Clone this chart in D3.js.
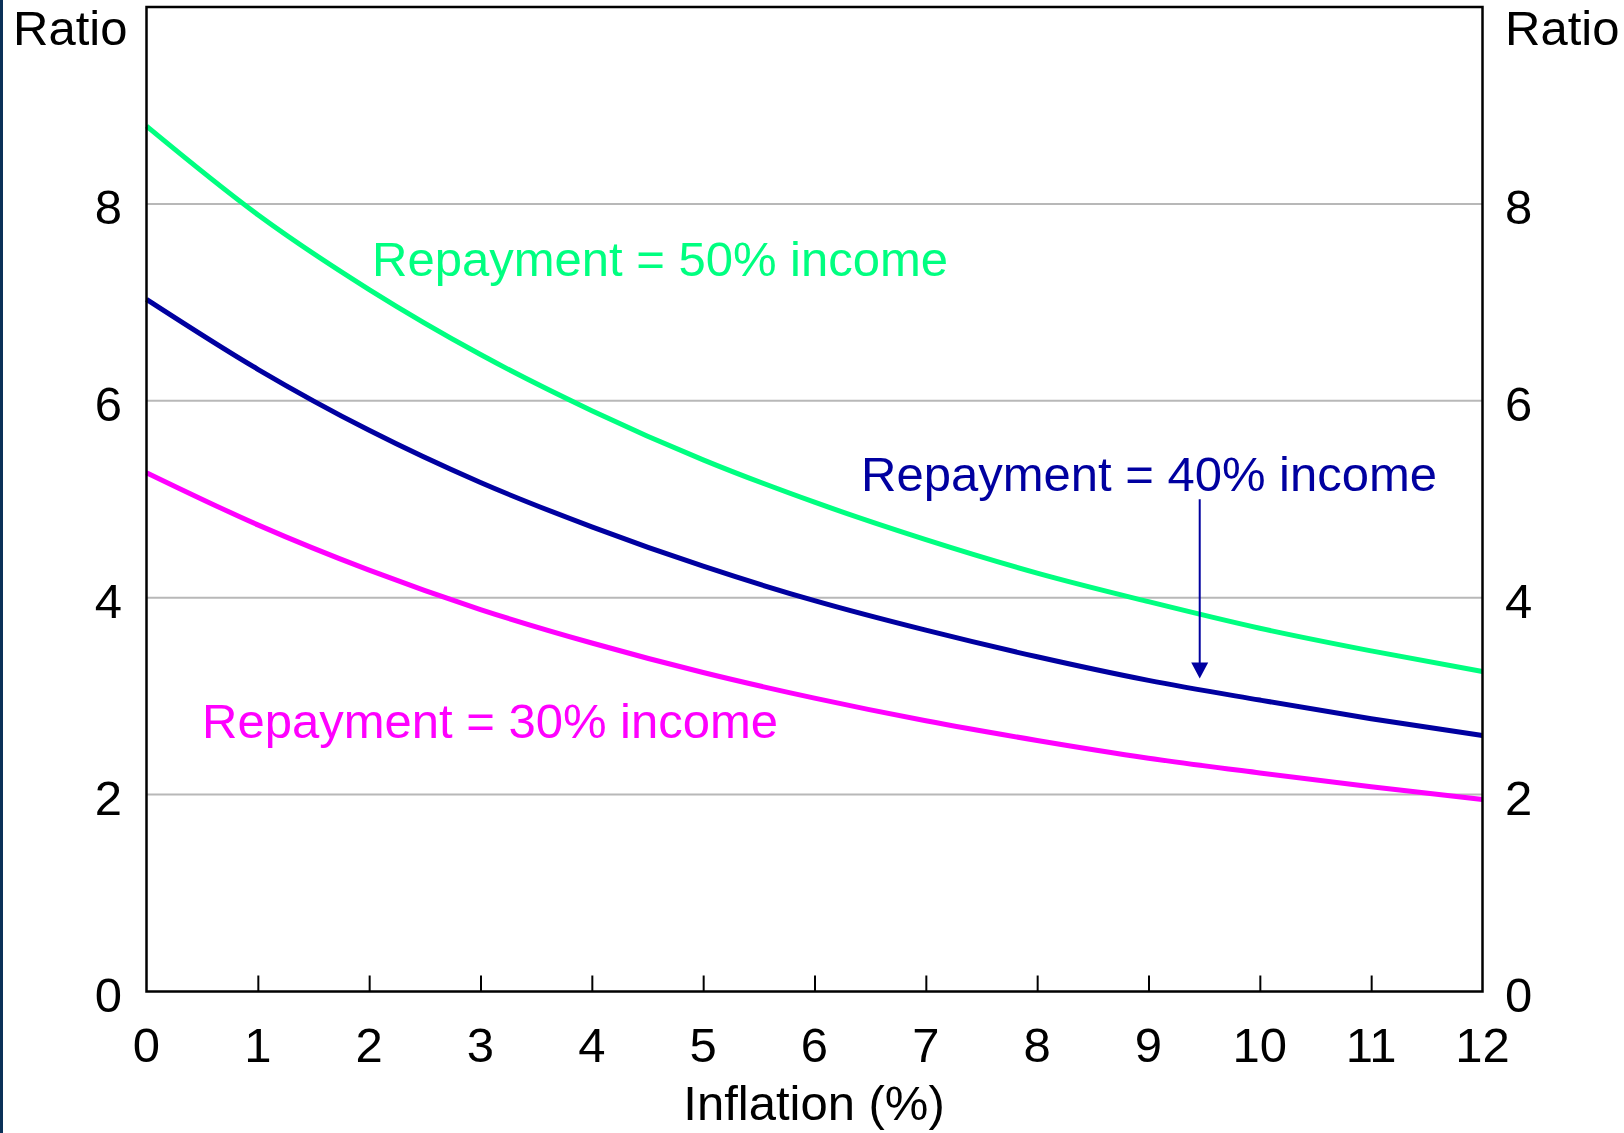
<!DOCTYPE html>
<html>
<head>
<meta charset="utf-8">
<script src="https://cdn.jsdelivr.net/npm/d3@7"></script>
<style>
  html, body { margin: 0; padding: 0; background: #fff; }
  svg { display: block; }
  text { font-family: "Liberation Sans", Arial, sans-serif; }
</style>
</head>
<body>
<svg id="chart" width="1624" height="1133"></svg>
<script>
// ---- Data ----
const inflation = [0, 1, 2, 3, 4, 5, 6, 7, 8, 9, 10, 11, 12];
const repay50 = [8.79, 7.89, 7.13, 6.47, 5.90, 5.40, 4.97, 4.59, 4.25, 3.96, 3.69, 3.46, 3.25];
const repay40 = [7.03, 6.32, 5.70, 5.17, 4.72, 4.32, 3.97, 3.67, 3.40, 3.16, 2.96, 2.77, 2.60];
const repay30 = [5.27, 4.74, 4.28, 3.88, 3.54, 3.24, 2.98, 2.75, 2.55, 2.37, 2.22, 2.08, 1.95];
const seriesNames = ["Repayment = 50% income", "Repayment = 40% income", "Repayment = 30% income"];
const xTicks = [0, 1, 2, 3, 4, 5, 6, 7, 8, 9, 10, 11, 12];
const yTicks = [0, 2, 4, 6, 8];
const gridValues = [2, 4, 6, 8];
const arrowAt = { x: 9.46, from: 5.0, to: 3.18 };

// ---- Layout ----
const svg = d3.select("#chart");
const pLeft = 146.5, pRight = 1482.5, pTop = 7, pBottom = 991.5;
const x = d3.scaleLinear().domain([0, 12]).range([pLeft, pRight]);
const y = d3.scaleLinear().domain([0, 10]).range([pBottom, pTop]);

const colors = ["#00FF80", "#0000A0", "#FF00FF"];
const fontSize = 49;

// left dark border strip
svg.append("rect").attr("x", 0).attr("y", 0).attr("width", 3).attr("height", 1133).attr("fill", "#0a3158");

// gridlines
svg.append("g").selectAll("line").data(gridValues).join("line")
  .attr("x1", pLeft).attr("x2", pRight)
  .attr("y1", d => y(d)).attr("y2", d => y(d))
  .attr("stroke", "#b8b8b8").attr("stroke-width", 2);

// lines
const lineGen = d3.line()
  .x((d, i) => x(inflation[i]))
  .y(d => y(d))
  .curve(d3.curveMonotoneX);

const series = [repay50, repay40, repay30];
svg.append("g").selectAll("path").data(series).join("path")
  .attr("d", d => lineGen(d))
  .attr("fill", "none")
  .attr("stroke", (d, i) => colors[i])
  .attr("stroke-width", 5);

// frame
svg.append("rect")
  .attr("x", pLeft).attr("y", pTop)
  .attr("width", pRight - pLeft).attr("height", pBottom - pTop)
  .attr("fill", "none").attr("stroke", "#000").attr("stroke-width", 2.5);

// bottom axis (ticks inward)
const xAxis = d3.axisBottom(x).tickValues(xTicks).tickSize(-16).tickFormat("");
const xg = svg.append("g").attr("transform", `translate(0,${pBottom})`).call(xAxis);
xg.select(".domain").remove();
xg.selectAll(".tick line").attr("stroke", "#000").attr("stroke-width", 2)
  .filter(d => d === 0 || d === 12).remove();

// x tick labels
svg.append("g").selectAll("text").data(xTicks).join("text")
  .attr("x", d => x(d)).attr("y", 1062)
  .attr("text-anchor", "middle")
  .attr("font-size", fontSize).attr("fill", "#000")
  .text(d => d);

// y tick labels left & right
const yl = svg.append("g");
yl.selectAll("text.l").data(yTicks).join("text").attr("class", "l")
  .attr("x", 122).attr("y", d => y(d) + 20)
  .attr("text-anchor", "end").attr("font-size", fontSize).attr("fill", "#000")
  .text(d => d);
yl.selectAll("text.r").data(yTicks).join("text").attr("class", "r")
  .attr("x", 1505).attr("y", d => y(d) + 20)
  .attr("text-anchor", "start").attr("font-size", fontSize).attr("fill", "#000")
  .text(d => d);

// axis unit labels
svg.append("text").attr("x", 13).attr("y", 45).attr("font-size", fontSize).text("Ratio");
svg.append("text").attr("x", 1505).attr("y", 45).attr("font-size", fontSize).text("Ratio");

// x axis title
svg.append("text").attr("x", 814).attr("y", 1120).attr("text-anchor", "middle")
  .attr("font-size", fontSize).text("Inflation (%)");

// series labels
const labelPos = [[372, 275.7], [861, 491], [202, 737.7]];
svg.append("g").selectAll("text").data(seriesNames).join("text")
  .attr("x", (d, i) => labelPos[i][0]).attr("y", (d, i) => labelPos[i][1])
  .attr("font-size", fontSize)
  .attr("fill", (d, i) => colors[i])
  .text(d => d);

// arrow
const ax = x(arrowAt.x), ay1 = y(arrowAt.from), ay2 = y(arrowAt.to);
svg.append("line").attr("x1", ax).attr("x2", ax).attr("y1", ay1).attr("y2", ay2 - 14)
  .attr("stroke", "#0000A0").attr("stroke-width", 2);
svg.append("path")
  .attr("d", `M${ax - 8.5},${ay2 - 16} L${ax + 8.5},${ay2 - 16} L${ax},${ay2} Z`)
  .attr("fill", "#0000A0");
</script>
</body>
</html>
